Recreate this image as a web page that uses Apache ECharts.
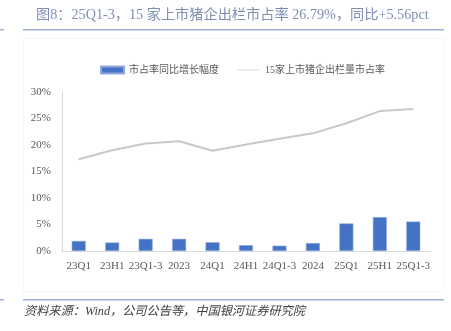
<!DOCTYPE html>
<html>
<head>
<meta charset="utf-8">
<script src="https://cdn.jsdelivr.net/npm/echarts@6/dist/echarts.min.js"></script>
<style>html,body{margin:0;padding:0;background:#fff}#c{width:451px;height:331px}</style>
</head>
<body>
<div id="c"></div>
<script>
const categories = ['23Q1','23H1','23Q1-3','2023','24Q1','24H1','24Q1-3','2024','25Q1','25H1','25Q1-3'];
const yoyChange = [1.9, 1.6, 2.3, 2.3, 1.65, 1.1, 1.0, 1.5, 5.2, 6.4, 5.56];
const marketShare = [17.3, 19.0, 20.3, 20.7, 18.9, 20.1, 21.2, 22.2, 24.1, 26.4, 26.79];
const yTicks = [0, 5, 10, 15, 20, 25, 30];

const serif = '"Liberation Serif","Noto Sans CJK SC",serif';
const chart = echarts.init(document.getElementById('c'));
chart.setOption({
  animation: false,
  backgroundColor: '#fff',
  graphic: [
    {type:'text', left:36, top:8, style:{text:'图8：25Q1-3，15 家上市猪企出栏市占率 26.79%，同比+5.56pct', font:'14.2px "Liberation Serif","Noto Sans CJK SC",serif', fill:'#7f8fb3'}},
    {type:'rect', shape:{x:23,y:29,width:421,height:1.5}, style:{fill:'#9db0d3'}},
    {type:'rect', shape:{x:0,y:29,width:4,height:1.5}, style:{fill:'#9db0d3'}},
    {type:'rect', shape:{x:23.5,y:38.5,width:420,height:253}, style:{fill:'none', stroke:'#f6f6f6', lineWidth:1}},
    {type:'rect', shape:{x:23,y:299,width:421,height:1.5}, style:{fill:'#9db0d3'}},
    {type:'rect', shape:{x:0,y:299,width:4,height:1.5}, style:{fill:'#9db0d3'}},
    {type:'text', left:24, top:306, style:{text:'资料来源：Wind，公司公告等，中国银河证券研究院', font:'italic 12.2px "Liberation Serif","Noto Sans CJK SC",serif', fill:'#404040'}}
  ],
  legend: {
    left: 95, top: 60,
    itemGap: 18,
    itemWidth: 23, itemHeight: 7,
    textStyle: {fontSize: 10, color: '#595959', fontFamily: serif},
    data: [
      {name:'市占率同比增长幅度', icon:'rect', itemStyle:{color:'#4472C4'}},
      {name:'15家上市猪企出栏量市占率', icon:'path://M0,0h0.01v0.01h-0.01z M0,2.6h100v2h-100z M0,7h0.01v0.01h-0.01z', itemStyle:{color:'#bdbdbd'}}
    ]
  },
  grid: {left: 62, right: 21, top: 92, bottom: 80},
  xAxis: {
    type: 'category',
    data: categories,
    axisLine: {lineStyle: {color: '#d9d9d9', width: 1}},
    axisTick: {show: false},
    axisLabel: {color: '#595959', fontSize: 11, fontFamily: serif, margin: 10, interval: 0}
  },
  yAxis: {
    type: 'value',
    min: yTicks[0], max: yTicks[yTicks.length-1], interval: 5,
    axisLine: {show: true, lineStyle: {color: '#d9d9d9'}},
    axisTick: {show: false},
    splitLine: {show: false},
    axisLabel: {color: '#595959', fontSize: 11, fontFamily: serif, margin: 11, formatter: v => v + '%'}
  },
  series: [
    {
      name: '市占率同比增长幅度', type: 'bar', data: yoyChange, barWidth: 14,
      itemStyle: {color: '#4472C4', borderColor: '#8fa9dc', borderWidth: 0.6}
    },
    {
      name: '15家上市猪企出栏量市占率', type: 'line', data: marketShare,
      symbol: 'none', lineStyle: {color: '#c8c8c8', width: 2},
      itemStyle: {color: '#c8c8c8'}
    }
  ]
});
</script>
</body>
</html>
